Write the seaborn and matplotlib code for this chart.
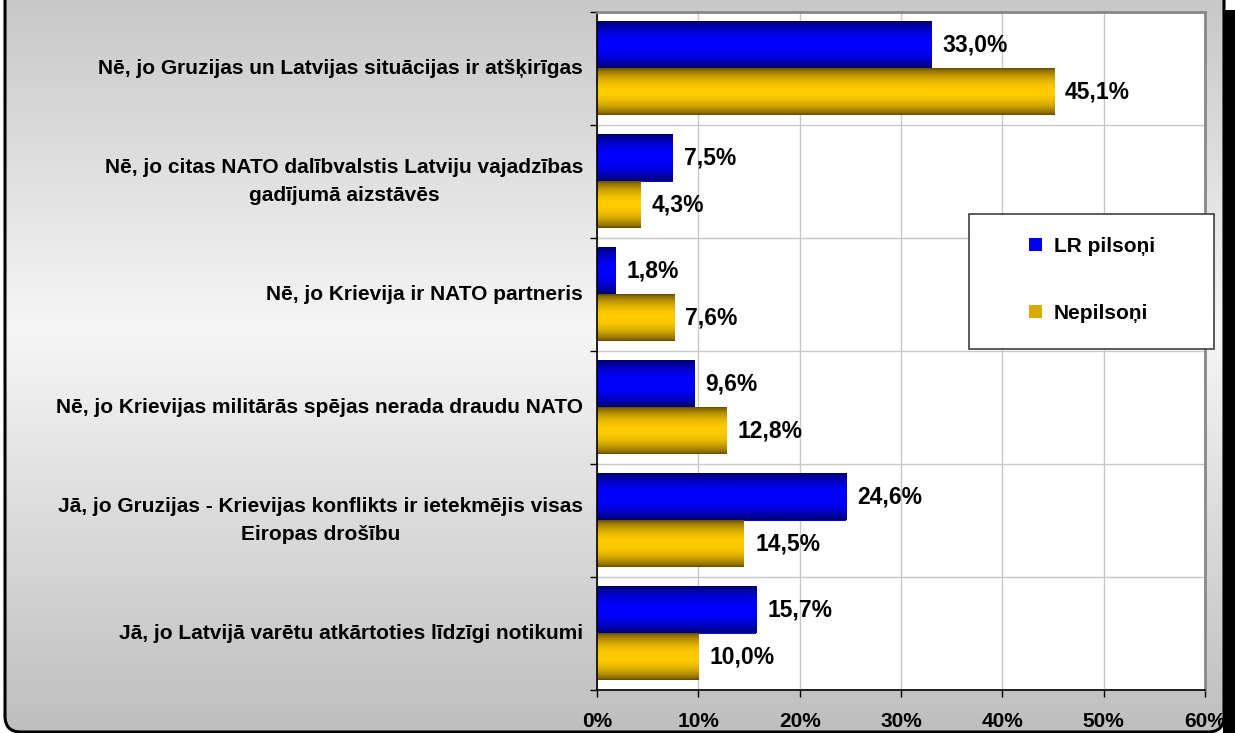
import numpy as np
import pandas as pd
import matplotlib
matplotlib.use("Agg")
import matplotlib.pyplot as plt
from matplotlib.patches import Rectangle, FancyBboxPatch
import seaborn as sns

categories = [
    "Nē, jo Gruzijas un Latvijas situācijas ir atšķirīgas",
    "Nē, jo citas NATO dalībvalstis Latviju vajadzības\ngadījumā aizstāvēs",
    "Nē, jo Krievija ir NATO partneris",
    "Nē, jo Krievijas militārās spējas nerada draudu NATO",
    "Jā, jo Gruzijas - Krievijas konflikts ir ietekmējis visas\nEiropas drošību",
    "Jā, jo Latvijā varētu atkārtoties līdzīgi notikumi",
]
series_names = ["LR pilsoņi", "Nepilsoņi"]
lr_pilsoni = [33.0, 7.5, 1.8, 9.6, 24.6, 15.7]
nepilsoni = [45.1, 4.3, 7.6, 12.8, 14.5, 10.0]
x_ticks = [0, 10, 20, 30, 40, 50, 60]
x_tick_labels = ["0%", "10%", "20%", "30%", "40%", "50%", "60%"]

df = pd.DataFrame({
    "cat": categories * 2,
    "series": [series_names[0]] * 6 + [series_names[1]] * 6,
    "value": lr_pilsoni + nepilsoni,
})

sns.set_style("white")
plt.rcParams["font.family"] = ["Liberation Sans", "DejaVu Sans"]
plt.rcParams["font.weight"] = "bold"
plt.rcParams["text.color"] = "black"
plt.rcParams["xtick.color"] = "black"
plt.rcParams["ytick.color"] = "black"
plt.rcParams["xtick.labelcolor"] = "black"
plt.rcParams["ytick.labelcolor"] = "black"

W, H = 1235, 733
fig = plt.figure(figsize=(W / 100, H / 100), dpi=100)
fig.patch.set_facecolor("white")

# background with gradient and rounded border
bg = fig.add_axes([0, 0, 1, 1], zorder=-10)
bg.set_xlim(0, W)
bg.set_ylim(H, 0)
bg.axis("off")
ys = np.linspace(0, H, 300)
vals = np.interp(ys, [0, 330, H], [200, 246, 190]) / 255.0
grad = np.repeat(vals[:, None], 2, axis=1)
grad_rgb = np.dstack([grad, grad, grad])
box = FancyBboxPatch((5, -40), 1219, 772, boxstyle="round,pad=0,rounding_size=16",
                     facecolor="none", edgecolor="black", linewidth=2.2)
bg.add_patch(box)
im = bg.imshow(grad_rgb, extent=(0, W, H, 0), aspect="auto", interpolation="bilinear")
im.set_clip_path(box)

colors = {"LR pilsoņi": "#0000ee", "Nepilsoņi": "#d9aa00"}

ax = fig.add_axes([597 / W, 1 - 690 / H, (1205 - 597) / W, (690 - 12) / H], zorder=0)
ax.set_facecolor("white")
sns.barplot(data=df, x="value", y="cat", hue="series", hue_order=series_names,
            order=categories, palette=colors, width=0.83, ax=ax, orient="h",
            saturation=1, edgecolor="none", linewidth=0)

handles, labels = ax.get_legend_handles_labels()
if ax.get_legend() is not None:
    ax.get_legend().remove()

# gradient overlays for bars
def bar_grad(c_edge, c_mid, n=64):
    s = np.linspace(0, 1, n)
    t = np.sin(np.pi * s) ** 0.7
    ce = np.array(c_edge)
    cm = np.array(c_mid)
    g = ce[None, :] * (1 - t[:, None]) + cm[None, :] * t[:, None]
    return g[:, None, :]

grad_blue = bar_grad((0.0, 0.0, 0.38), (0.0, 0.0, 1.0))
grad_gold = bar_grad((0.40, 0.30, 0.0), (1.0, 0.80, 0.0))

for container, g in zip(ax.containers, [grad_blue, grad_gold]):
    for p in container.patches:
        x0, y0 = p.get_x(), p.get_y()
        w, h = p.get_width(), p.get_height()
        ax.imshow(g, extent=(x0, x0 + w, y0 + h, y0), aspect="auto",
                  interpolation="bilinear", zorder=2)

for container, vals_ in zip(ax.containers, [lr_pilsoni, nepilsoni]):
    ax.bar_label(container, labels=[f"{v:.1f}%".replace(".", ",") for v in vals_],
                 padding=8, fontsize=16.5, fontweight="bold", color="black")

ax.set_xlim(0, 60)
ax.set_ylim(len(categories) - 0.5, -0.5)
ax.set_xticks(x_ticks)
ax.set_xticklabels(x_tick_labels, fontsize=15, fontweight="bold", color="black")
ax.set_yticks(range(len(categories)))
ax.set_yticklabels(categories, fontsize=15, fontweight="bold", color="black")
for lab in ax.get_yticklabels():
    lab.set_multialignment("center")
    lab.set_linespacing(1.65)
    lab.set_verticalalignment("center")
ax.set_yticks(np.arange(-0.5, len(categories), 1), minor=True)
ax.tick_params(axis="y", which="major", length=0, pad=10)
ax.tick_params(axis="y", which="minor", length=5, width=1, color="black", direction="out", left=True)
ax.tick_params(axis="x", which="major", length=5, width=1, color="black", direction="out", bottom=True, pad=11)
ax.set_xlabel("")
ax.set_ylabel("")
ax.grid(False)
ax.xaxis.grid(True, which="major", color="#c8c8c8", linewidth=1)
ax.yaxis.grid(True, which="minor", color="#c8c8c8", linewidth=1)
ax.set_axisbelow(True)
for side in ["left", "bottom"]:
    ax.spines[side].set_color("black")
    ax.spines[side].set_linewidth(1.2)
for side in ["top", "right"]:
    ax.spines[side].set_color("#888888")
    ax.spines[side].set_linewidth(2)

# legend frame and legend
fig.patches.append(Rectangle((969 / W, 1 - 349 / H), 245 / W, 135 / H, transform=fig.transFigure,
                             facecolor="white", edgecolor="#404040", linewidth=1.2, zorder=4))
leg = fig.legend(handles, labels, loc="center", bbox_to_anchor=(1092 / W, 1 - 280 / H),
                 frameon=False, prop={"weight": "bold", "size": 15},
                 handlelength=0.62, handleheight=0.62, handletextpad=0.55, labelspacing=2.3)
leg.set_zorder(5)
for t in leg.get_texts():
    t.set_color("black")

# right shadow
fig.patches.append(Rectangle((1223 / W, 0), 12 / W, 1 - 10 / H, transform=fig.transFigure,
                             facecolor="black", edgecolor="none", zorder=6))

fig.savefig("out.png", dpi=100)
